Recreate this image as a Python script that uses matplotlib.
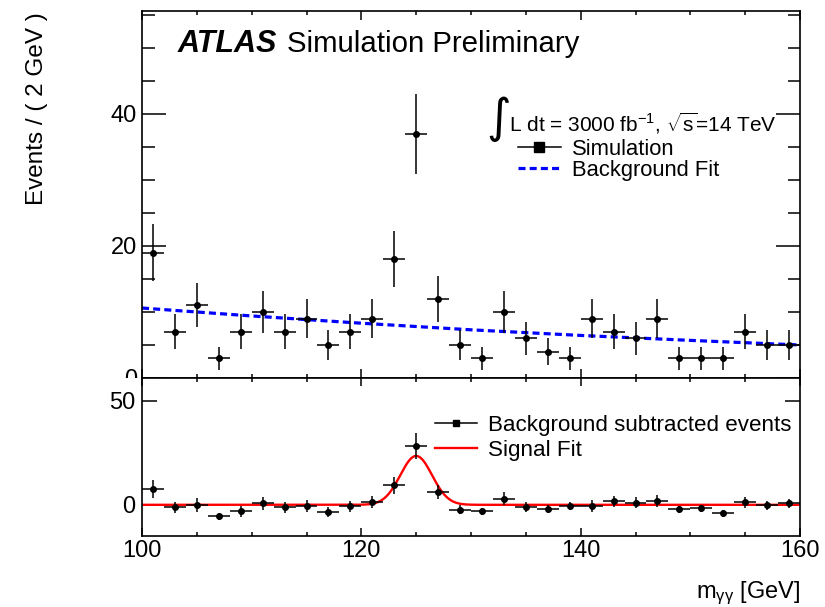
import numpy as np
import matplotlib
matplotlib.use('Agg')
import matplotlib.pyplot as plt
from matplotlib.lines import Line2D
from matplotlib.patches import Rectangle
from matplotlib.ticker import MultipleLocator, FixedLocator

plt.rcParams['font.family'] = ['Liberation Sans', 'DejaVu Sans']
plt.rcParams['mathtext.fontset'] = 'custom'
plt.rcParams['mathtext.rm'] = 'Liberation Sans'
plt.rcParams['mathtext.it'] = 'Liberation Sans:italic'
plt.rcParams['mathtext.bf'] = 'Liberation Sans:bold'

# ---------------- data ----------------
bin_centers = [101, 103, 105, 107, 109, 111, 113, 115, 117, 119,
               121, 123, 125, 127, 129, 131, 133, 135, 137, 139,
               141, 143, 145, 147, 149, 151, 153, 155, 157, 159]
events = [19, 7, 11, 3, 7, 10, 7, 9, 5, 7,
          9, 18, 37, 12, 5, 3, 10, 6, 4, 3,
          9, 7, 6, 9, 3, 3, 3, 7, 5, 5]
bkg_subtracted = [7.7, -1.1, 0.0, -5.6, -3.2, 0.8, -1.1, -0.6, -3.5, -0.6,
                  1.3, 9.3, 28.3, 6.1, -2.4, -3.2, 2.9, -1.1, -1.9, -0.6,
                  -0.6, 1.6, 1.1, 1.9, -2.1, -1.6, -4.0, 1.3, -0.3, 0.8]
bin_half_width = 1.0

# background fit curve read at sample masses
bkg_fit_x = [100, 110, 120, 130, 140, 150, 160]
bkg_fit_y = [10.6, 9.4, 8.3, 7.3, 6.45, 5.7, 5.0]

# signal fit (gaussian) parameters
sig_amp = 23.5
sig_mean = 125.0
sig_sigma = 1.45

xlim = (100, 160)

# ---------------- figure ----------------
W, H = 825, 607
fig = plt.figure(figsize=(W / 100, H / 100), dpi=100)

def fx(px):
    return px / W

def fy(py):
    return 1 - py / H

L, R = 142, 800
T1, B1 = 11, 378
B2 = 536
ax1 = fig.add_axes([fx(L), fy(B1), fx(R) - fx(L), fy(T1) - fy(B1)])
ax2 = fig.add_axes([fx(L), fy(B2), fx(R) - fx(L), fy(B1) - fy(B2)])
ax2.set_zorder(2)
ax1.set_zorder(0)

def a1x(px):
    return (px - L) / (R - L)

def a1y(py):
    return (B1 - py) / (B1 - T1)

# cover lower half of top-panel "0" label like the ROOT pad does
fig.patches.append(Rectangle((fx(60), fy(397)), fx(L - 1) - fx(60), fy(B1) - fy(397),
                             transform=fig.transFigure, facecolor='white',
                             edgecolor='none', zorder=1))

errs = np.sqrt(events)

# top panel
ax1.errorbar(bin_centers, events, xerr=bin_half_width, yerr=errs, fmt='o',
             color='black', ms=4, elinewidth=1.1, capsize=0, zorder=3)
ax1.plot(bkg_fit_x, bkg_fit_y, color='#0000ff', lw=2.3,
         linestyle=(0, (2.2, 1.3)), zorder=2)
ax1.set_xlim(*xlim)
ax1.set_ylim(0, 55.6)
ax1.xaxis.set_major_locator(MultipleLocator(20))
ax1.xaxis.set_minor_locator(MultipleLocator(5))
ax1.yaxis.set_major_locator(MultipleLocator(20))
ax1.yaxis.set_minor_locator(MultipleLocator(5))
ax1.tick_params(axis='both', which='both', direction='in', top=True, right=True,
                width=1.1, labelsize=17)
ax1.tick_params(axis='x', which='major', length=6.5, labelbottom=False)
ax1.tick_params(axis='x', which='minor', length=3.2)
ax1.tick_params(axis='y', which='major', length=17.5, pad=3.6)
ax1.tick_params(axis='y', which='minor', length=9)
for s in ax1.spines.values():
    s.set_linewidth(1.2)

ax1.text(a1x(178), a1y(52), 'ATLAS',
         transform=ax1.transAxes, fontsize=22, weight='bold', style='italic',
         va='baseline', ha='left')
ax1.text(a1x(287), a1y(52), 'Simulation Preliminary',
         transform=ax1.transAxes, fontsize=21.2, va='baseline', ha='left')

ax1.text(a1x(486), a1y(119), '\u222b',
         transform=ax1.transAxes, fontsize=34, family='DejaVu Sans',
         va='center', ha='left')
ax1.text(a1x(509), a1y(131),
         r'L dt = 3000 fb$^{\mathregular{-1}}$, $\sqrt{\mathregular{s}}$=14 TeV',
         transform=ax1.transAxes, fontsize=15.0, va='baseline', ha='left')

h_sim = Line2D([], [], color='black', marker='s', ms=6.5, lw=1.1)
h_bkg = Line2D([], [], color='#0000ff', lw=2.3, linestyle=(0, (2.2, 1.3)))
leg1 = ax1.legend([h_sim, h_bkg], ['Simulation', 'Background Fit'],
                  loc='upper left', bbox_to_anchor=(a1x(518), a1y(139.0)),
                  frameon=False, fontsize=15.8, borderpad=0, borderaxespad=0,
                  handlelength=1.95, handletextpad=0.5, labelspacing=0.0)

# bottom panel
x_fine = np.linspace(xlim[0], xlim[1], 1201)
ax2.plot(x_fine, sig_amp * np.exp(-0.5 * ((x_fine - sig_mean) / sig_sigma) ** 2),
         color='#ff0000', lw=1.7, zorder=2)
ax2.errorbar(bin_centers, bkg_subtracted, xerr=bin_half_width, yerr=errs, fmt='o',
             color='black', ms=4, elinewidth=1.1, capsize=0, zorder=3)
ax2.set_xlim(*xlim)
ax2.set_ylim(-15, 61)
ax2.xaxis.set_major_locator(MultipleLocator(20))
ax2.xaxis.set_minor_locator(MultipleLocator(5))
ax2.yaxis.set_major_locator(FixedLocator([0, 50]))
ax2.tick_params(axis='both', which='both', direction='in', top=True, right=True,
                width=1.1, labelsize=17)
ax2.tick_params(axis='x', which='major', length=6, pad=3)
ax2.tick_params(axis='x', which='minor', length=3)
ax2.tick_params(axis='y', which='major', length=10.8, pad=5)
for s in ax2.spines.values():
    s.set_linewidth(1.2)

h_sub = Line2D([], [], color='black', marker='s', ms=4.5, lw=1.1)
h_sig = Line2D([], [], color='#ff0000', lw=1.7)
leg2 = ax2.legend([h_sub, h_sig], ['Background subtracted events', 'Signal Fit'],
                  loc='upper left', bbox_to_anchor=((435 - L) / (R - L), (B2 - 414.5) / (B2 - B1)),
                  frameon=False, fontsize=16.1, borderpad=0, borderaxespad=0,
                  handlelength=1.9, handletextpad=0.48, labelspacing=0.18)

fig.text(fx(800), fy(598), r'm$_{\mathregular{\gamma\gamma}}$ [GeV]', fontsize=17,
         ha='right', va='baseline')
fig.text(fx(37), fy(12), 'Events / ( 2 GeV )', fontsize=17.5, rotation=90,
         ha='center', va='top')

fig.savefig('out.png', dpi=100)
